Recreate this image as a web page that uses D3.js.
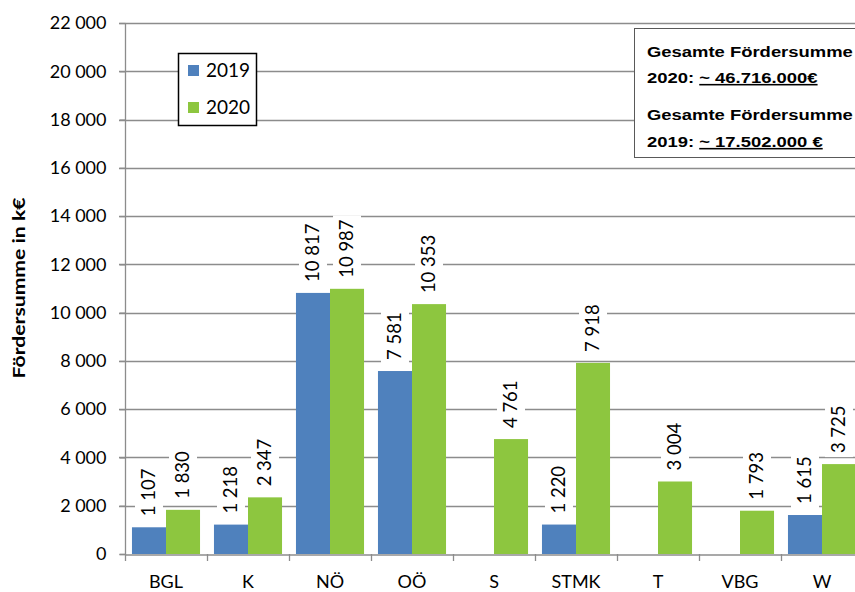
<!DOCTYPE html>
<html>
<head>
<meta charset="utf-8">
<script src="https://cdn.jsdelivr.net/npm/d3@7"></script>
<style>
  html, body { margin: 0; padding: 0; background: #fff; }
  svg { display: block; }
</style>
</head>
<body>
<svg id="chart" width="855" height="592"></svg>
<script>
const categories = ["BGL", "K", "NÖ", "OÖ", "S", "STMK", "T", "VBG", "W"];
const values2019 = [1107, 1218, 10817, 7581, null, 1220, null, null, 1615];
const values2020 = [1830, 2347, 10987, 10353, 4761, 7918, 3004, 1793, 3725];
const seriesNames = ["2019", "2020"];
const yTicks = [0, 2000, 4000, 6000, 8000, 10000, 12000, 14000, 16000, 18000, 20000, 22000];
const boxLines = [
  { prefix: "Gesamte Fördersumme", underlined: "" },
  { prefix: "2020: ", underlined: "~ 46.716.000€" },
  { prefix: "Gesamte Fördersumme", underlined: "" },
  { prefix: "2019: ", underlined: "~ 17.502.000 €" }
];
const yTitle = "Fördersumme in k€";

(function () {
const colors = ["#4F81BD", "#8DC63F"];
const gridColor = "#8c8c8c";
const font = "Lato, 'Open Sans', sans-serif";

const svg = d3.select("#chart");
const pLeft = 125, pRight = 863, pTop = 23, pBottom = 554;

const x = d3.scaleBand().domain(categories).range([pLeft, pRight]).padding(0);
const y = d3.scaleLinear().domain([0, 22000]).range([pBottom, pTop]);
const fmt = d3.formatLocale({ decimal: ",", thousands: " ", grouping: [3], currency: ["", "€"] }).format(",d");

// gridlines
svg.append("g").selectAll("line").data(yTicks.filter(d => d > 0)).join("line")
  .attr("x1", pLeft - 6).attr("x2", 855)
  .attr("y1", d => Math.round(y(d)) + 0.5).attr("y2", d => Math.round(y(d)) + 0.5)
  .attr("stroke", gridColor).attr("stroke-width", 1.3);

// y axis
const yAxis = d3.axisLeft(y).tickValues(yTicks).tickFormat(fmt).tickSize(6).tickPadding(13);
const gy = svg.append("g").attr("transform", `translate(${pLeft + 0.5},0)`).call(yAxis);
gy.select(".domain").attr("stroke", gridColor).attr("stroke-width", 1.3).attr("d", `M-6,${pBottom + 0.5}H0V${pTop}`);
gy.selectAll(".tick line").attr("stroke", gridColor).attr("stroke-width", 1.3);
gy.selectAll(".tick text").attr("font-family", font).attr("font-size", 18).attr("fill", "#000");

// bars
const barW = x.bandwidth() * 0.415;
const barOff = x.bandwidth() * 0.085;
const series = [values2019, values2020];
const barsData = [];
series.forEach((vals, si) => {
  vals.forEach((v, i) => {
    if (v !== null) barsData.push({ cat: categories[i], v, si });
  });
});
svg.append("g").selectAll("rect").data(barsData).join("rect")
  .attr("x", d => x(d.cat) + barOff + d.si * barW)
  .attr("width", barW)
  .attr("y", d => y(d.v))
  .attr("height", d => y(0) - y(d.v))
  .attr("fill", d => colors[d.si]);

// x axis
const xAxis = d3.axisBottom(x).tickSize(0).tickPadding(20);
const gx = svg.append("g").attr("transform", `translate(0,${pBottom + 0.5})`).call(xAxis);
gx.select(".domain").attr("stroke", gridColor).attr("stroke-width", 1.3);
gx.selectAll(".tick text").attr("font-family", font).attr("font-size", 18).attr("fill", "#000").attr("dy", "0.71em").attr("y", 21);
// category boundary ticks
svg.append("g").selectAll("line").data(categories.map((c, i) => i)).join("line")
  .attr("x1", i => Math.round(pLeft + i * x.step()) + 0.5)
  .attr("x2", i => Math.round(pLeft + i * x.step()) + 0.5)
  .attr("y1", pBottom).attr("y2", pBottom + 7)
  .attr("stroke", gridColor).attr("stroke-width", 1.3);

// data labels with white background
const bgLayer = svg.append("g");
const textLayer = svg.append("g");
barsData.forEach(d => {
  const cx = x(d.cat) + barOff + d.si * barW + barW / 2;
  const tr = `translate(${cx},${y(d.v) - 11}) rotate(-90)`;
  const t = textLayer.append("text").text(fmt(d.v))
    .attr("transform", tr)
    .attr("font-family", font).attr("font-size", 18.5).attr("fill", "#000")
    .attr("x", 0).attr("y", 0).attr("dy", "0.35em").attr("text-anchor", "start");
  const len = t.node().getComputedTextLength();
  bgLayer.append("rect").attr("transform", tr).attr("fill", "#fff")
    .attr("x", -4).attr("width", len + 8).attr("y", -14).attr("height", 28);
});

// legend
const leg = svg.append("g");
leg.append("rect").attr("x", 178.5).attr("y", 53.5).attr("width", 78).attr("height", 72)
  .attr("fill", "#fff").attr("stroke", "#000").attr("stroke-width", 1.5);
seriesNames.forEach((s, i) => {
  leg.append("rect").attr("x", 188).attr("y", 65 + i * 37).attr("width", 11).attr("height", 11).attr("fill", colors[i]);
  leg.append("text").text(s).attr("x", 206).attr("y", 77 + i * 37)
    .attr("font-family", font).attr("font-size", 19).attr("fill", "#000");
});

// annotation box
svg.append("rect").attr("x", 634.5).attr("y", 28.5).attr("width", 240).attr("height", 129)
  .attr("fill", "#fff").attr("stroke", "#595959").attr("stroke-width", 1);
const baselines = [57, 83, 120, 147];
const bx = svg.append("g").attr("transform", "translate(647,0) scale(1.19,1)");
boxLines.forEach((l, i) => {
  const t = bx.append("text").attr("x", 0).attr("y", baselines[i])
    .attr("font-family", "Arial, 'Liberation Sans', sans-serif").attr("font-weight", "bold")
    .attr("font-size", 15.5).attr("fill", "#000");
  t.append("tspan").text(l.prefix);
  if (l.underlined) t.append("tspan").text(l.underlined).attr("text-decoration", "underline");
});

// y title
svg.append("text").text(yTitle)
  .attr("transform", "translate(25,288) rotate(-90)")
  .attr("text-anchor", "middle")
  .attr("font-family", font).attr("font-weight", "bold").attr("font-size", 17)
  .attr("textLength", 181).attr("lengthAdjust", "spacingAndGlyphs")
  .attr("fill", "#000");
})();
</script>
</body>
</html>
